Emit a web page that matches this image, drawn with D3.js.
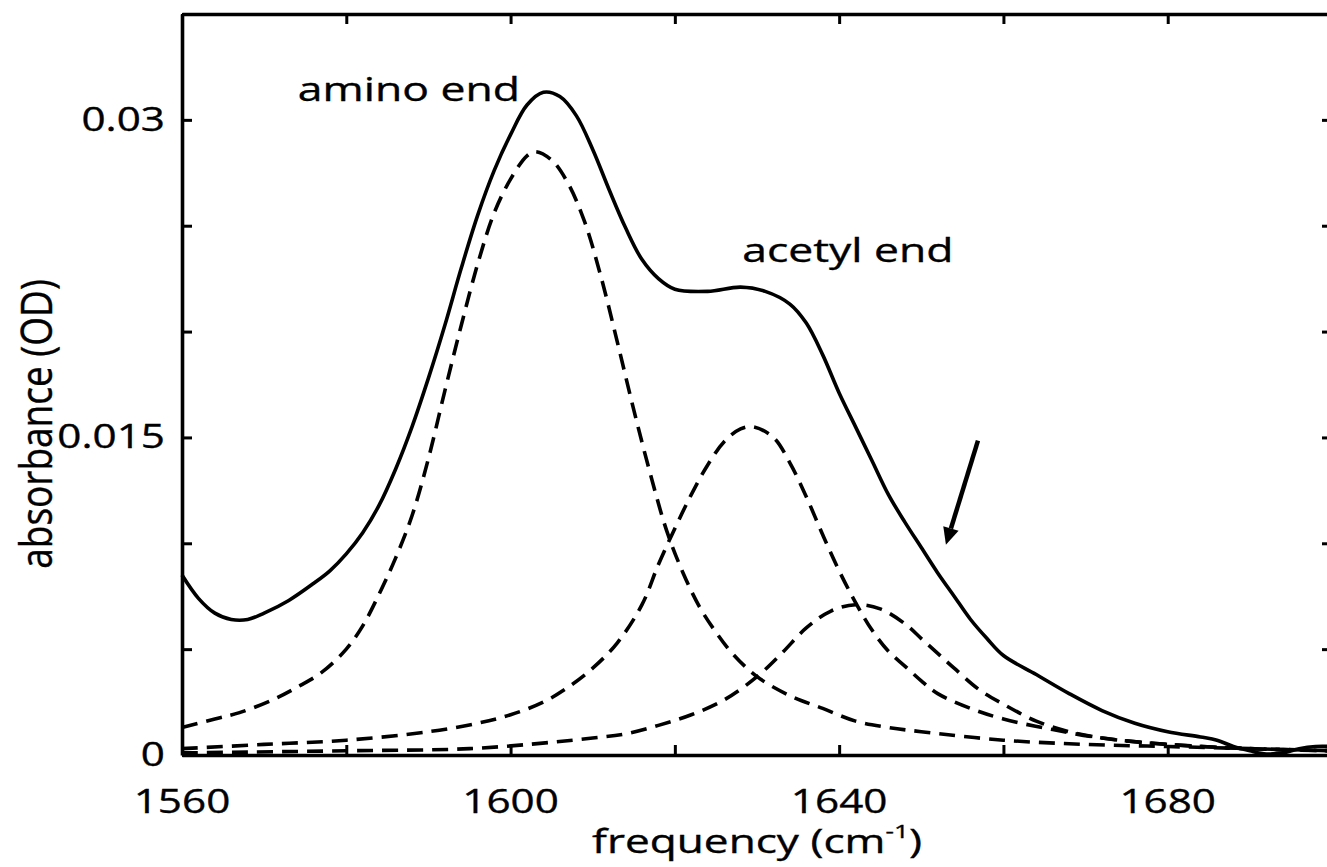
<!DOCTYPE html>
<html>
<head>
<meta charset="utf-8">
<script src="https://cdn.jsdelivr.net/npm/d3@7/dist/d3.min.js"></script>
<style>
  html, body { margin: 0; padding: 0; background: #fff; }
  svg { display: block; }
  text { font-family: "Open Sans", "DejaVu Sans", sans-serif; fill: #000; stroke: #000; stroke-width: 0.35px; }
</style>
</head>
<body>
<svg id="chart" width="1327" height="867"></svg>
<script>
// ---------- data ----------
const totalFreq = [1560,1562,1564,1566,1568,1570,1573,1576,1578,1580,1582,1584,1586,1588,1590,1592,1594,1596,1598,1600,1602,1604,1606,1608,1610,1612,1614,1616,1618,1620,1624,1628,1631,1634,1636,1638,1640,1642,1644,1646,1648,1650,1652,1654,1656,1658,1660,1664,1668,1672,1676,1680,1684,1686,1688,1690,1692,1694,1696,1698,1700];
const totalAbs  = [0.0085,0.0074,0.0067,0.0064,0.0064,0.0067,0.0073,0.0081,0.0087,0.0095,0.0105,0.0118,0.0135,0.0155,0.0178,0.0203,0.0230,0.0255,0.0276,0.0293,0.0307,0.0313,0.0311,0.0302,0.0286,0.0267,0.0249,0.0234,0.0225,0.0220,0.0219,0.0221,0.0219,0.0213,0.0204,0.0189,0.0171,0.0155,0.0139,0.0123,0.0110,0.0098,0.0086,0.0075,0.0064,0.0055,0.0047,0.0038,0.0029,0.0021,0.0015,0.0011,0.00085,0.0007,0.0004,0.0002,0.00005,0.0001,0.0003,0.0004,0.0004];

const aminoFreq = [1560,1564,1567,1571,1574,1577,1580,1582,1584,1586,1588,1590,1592,1594,1596,1598,1600,1602,1603,1605,1607,1609,1611,1613,1615,1617,1619,1621,1623,1625,1627,1630,1634,1638,1642,1646,1650,1660,1670,1680,1690,1700];
const aminoAbs  = [0.0013,0.0017,0.0020,0.0026,0.0032,0.0039,0.0050,0.0061,0.0076,0.0093,0.0113,0.0140,0.0172,0.0203,0.0232,0.0256,0.0272,0.0283,0.0285,0.0281,0.0270,0.0252,0.0226,0.0195,0.0163,0.0133,0.0106,0.0086,0.0070,0.0058,0.0048,0.0037,0.0028,0.0022,0.0016,0.0013,0.0011,0.0007,0.0005,0.0004,0.0003,0.0002];

const acetylFreq = [1560,1570,1580,1590,1596,1600,1604,1607,1610,1613,1616,1618,1620,1622,1624,1626,1628,1629.5,1632,1634,1636,1638,1640,1642,1644,1646,1648,1650,1652,1656,1660,1666,1672,1680,1690,1700];
const acetylAbs  = [0.0003,0.0005,0.0007,0.0011,0.0015,0.0019,0.0025,0.0032,0.0041,0.0053,0.0071,0.0090,0.0107,0.0123,0.0137,0.0148,0.0154,0.0155,0.0150,0.0138,0.0122,0.0104,0.0087,0.0072,0.0059,0.0049,0.0042,0.0035,0.0029,0.0022,0.0017,0.0012,0.0008,0.0005,0.0003,0.0002];

const thirdFreq = [1560,1580,1595,1605,1610,1614,1618,1622,1626,1630,1633,1636,1639,1642,1645,1648,1650,1652,1654,1657,1660,1664,1668,1672,1680,1690,1700];
const thirdAbs  = [0.0001,0.0002,0.0003,0.0006,0.0008,0.0010,0.0014,0.0019,0.0026,0.0037,0.0048,0.0060,0.0068,0.0071,0.0069,0.0062,0.0055,0.0048,0.0041,0.0031,0.0024,0.0016,0.0011,0.0008,0.0005,0.0003,0.0002];

const xTicks = [1560,1580,1600,1620,1640,1660,1680,1700];
const xTickLabels = [1560,1600,1640,1680];
const yTicks = [0,0.005,0.01,0.015,0.02,0.025,0.03,0.035];
const yTickLabels = ["0","0.015","0.03"];

const annotations = [
  {text: "amino end",  f: 1574.1, a: 0.0309},
  {text: "acetyl end", f: 1628.2, a: 0.02327}
];
const arrowFrom = {f: 1656.9, a: 0.01485};
const arrowTo   = {f: 1653.0, a: 0.00993};

const xTitle = "frequency (cm";
const xTitleSup = "-1";
const xTitleEnd = ")";
const yTitle = "absorbance (OD)";

// ---------- layout ----------
const svg = d3.select("#chart");
svg.append("rect").attr("width",1327).attr("height",867).attr("fill","#fff");

const x = d3.scaleLinear().domain([1560,1700]).range([182,1332]);
const y = d3.scaleLinear().domain([0,0.035]).range([755,14]);

const axisW = 3.6, tickLen = 10;

function styleAxis(g){
  g.selectAll("path.domain").attr("stroke","#000").attr("stroke-width",axisW);
  g.selectAll(".tick line").attr("stroke","#000").attr("stroke-width",3);
  g.selectAll(".tick text").remove();
}

svg.append("g").attr("transform",`translate(0,${y(0)})`)
  .call(d3.axisBottom(x).tickValues(xTicks).tickSizeInner(-tickLen).tickSizeOuter(0).tickFormat(""))
  .call(styleAxis);
svg.append("g").attr("transform",`translate(0,${y(0.035)})`)
  .call(d3.axisTop(x).tickValues(xTicks).tickSizeInner(-tickLen).tickSizeOuter(0).tickFormat(""))
  .call(styleAxis);
svg.append("g").attr("transform",`translate(${x(1560)},0)`)
  .call(d3.axisLeft(y).tickValues(yTicks).tickSizeInner(-tickLen).tickSizeOuter(0).tickFormat(""))
  .call(styleAxis);
svg.append("g").attr("transform",`translate(${x(1700)},0)`)
  .call(d3.axisRight(y).tickValues(yTicks).tickSizeInner(-tickLen).tickSizeOuter(0).tickFormat(""))
  .call(styleAxis);

// tick labels (horizontally stretched like the reference)
const tickFont = 32, sx = 1.32;
svg.append("g").selectAll("text").data(xTickLabels).join("text")
  .attr("transform", d => `translate(${x(d)},813) scale(${sx},1)`)
  .attr("text-anchor","middle").attr("font-size",tickFont)
  .text(d => d);
svg.append("g").selectAll("text").data(yTickLabels).join("text")
  .attr("transform", d => `translate(165,${y(+d)+11}) scale(${sx},1)`)
  .attr("text-anchor","end").attr("font-size",tickFont)
  .text(d => d);

// ---------- curves ----------
const line = d3.line().x(d => x(d[0])).y(d => y(d[1])).curve(d3.curveCatmullRom.alpha(0.5));
const zip = (a,b) => a.map((v,i) => [v,b[i]]);

const plot = svg.append("g");
[[aminoFreq,aminoAbs],[acetylFreq,acetylAbs],[thirdFreq,thirdAbs]].forEach(([f,a]) => {
  plot.append("path").datum(zip(f,a))
    .attr("d", line).attr("fill","none").attr("stroke","#000")
    .attr("stroke-width",3.6).attr("stroke-dasharray","16,9");
});
plot.append("path").datum(zip(totalFreq,totalAbs))
  .attr("d", line).attr("fill","none").attr("stroke","#000").attr("stroke-width",3.6);

// ---------- annotations ----------
svg.append("g").selectAll("text").data(annotations).join("text")
  .attr("transform", d => `translate(${x(d.f)},${y(d.a)}) scale(1.39,1)`)
  .attr("font-size",32).text(d => d.text);

// arrow
const ax1 = x(arrowFrom.f), ay1 = y(arrowFrom.a), ax2 = x(arrowTo.f), ay2 = y(arrowTo.a);
const ang = Math.atan2(ay2-ay1, ax2-ax1);
const headL = 17, headW = 8;
const bx = ax2 - headL*Math.cos(ang), by = ay2 - headL*Math.sin(ang);
svg.append("line").attr("x1",ax1).attr("y1",ay1).attr("x2",bx).attr("y2",by)
  .attr("stroke","#000").attr("stroke-width",4.5);
svg.append("path")
  .attr("d", `M${ax2},${ay2} L${bx + headW*Math.sin(ang)},${by - headW*Math.cos(ang)} L${bx - headW*Math.sin(ang)},${by + headW*Math.cos(ang)} Z`)
  .attr("fill","#000");

// ---------- axis titles ----------
const xt = svg.append("text")
  .attr("transform","translate(757,853) scale(1.38,1)")
  .attr("text-anchor","middle").attr("font-size",32);
xt.append("tspan").text(xTitle);
xt.append("tspan").attr("font-size",19).attr("dy",-15).text(xTitleSup);
xt.append("tspan").attr("dy",15).text(xTitleEnd);

svg.append("text")
  .attr("transform","translate(52,424) scale(1.2,1) rotate(-90)")
  .attr("text-anchor","middle").attr("font-size",37)
  .text(yTitle);
</script>
</body>
</html>
